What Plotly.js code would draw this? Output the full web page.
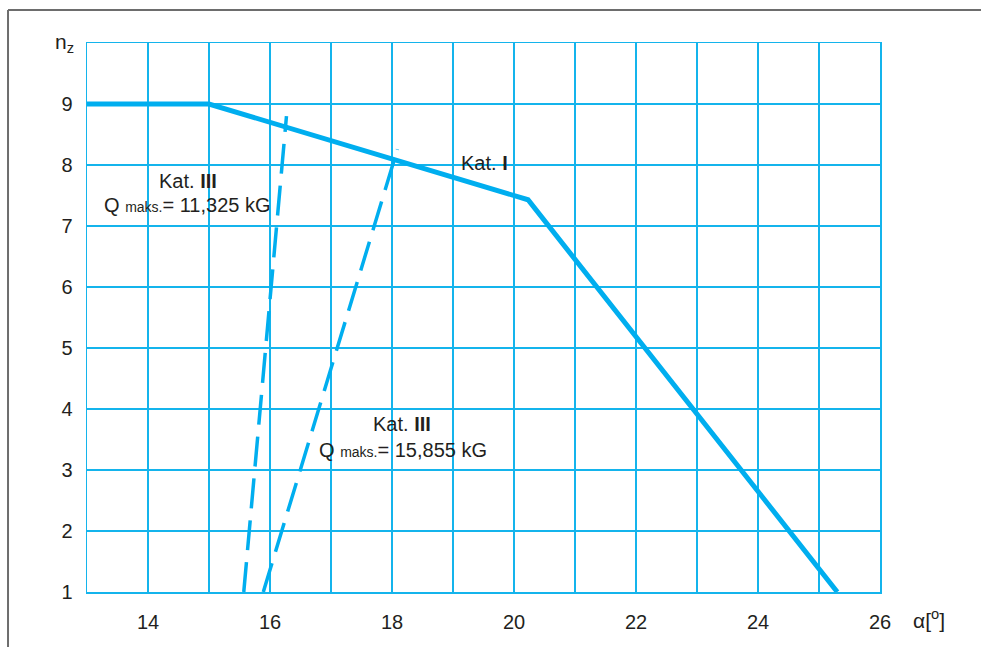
<!DOCTYPE html>
<html>
<head>
<meta charset="utf-8">
<script src="https://cdn.plot.ly/plotly-3.0.1.min.js"></script>
<style>
html,body{margin:0;padding:0;background:#fff;}
#chart{width:981px;height:647px;}
</style>
</head>
<body>
<div id="chart"></div>
<script>
// Kat. I envelope (solid)
const katI_alpha = [13, 15, 20.23, 25.3];
const katI_nz    = [9, 9, 7.43, 1];

// Kat. III, Q maks. = 11,325 kG (dashed)
const katIII_a_alpha = [15.57, 16.27];
const katIII_a_nz    = [1, 8.80];

// Kat. III, Q maks. = 15,855 kG (dashed)
const katIII_b_alpha = [15.89, 18.09];
const katIII_b_nz    = [1, 8.26];

const xTickVals = [14,15,16,17,18,19,20,21,22,23,24,25,26];
const xTickText = ['14','','16','','18','','20','','22','','24','','26'];
const yTickVals = [1,2,3,4,5,6,7,8,9,10];
const yTickText = ['1','2','3','4','5','6','7','8','9',''];

const BLUE = '#00aeef';
const GRID = '#14b4ec';
const TXT = '#231f20';
const FONT = 'Liberation Sans, Arial, sans-serif';

const traces = [
  {x: katI_alpha, y: katI_nz, mode: 'lines', line: {color: BLUE, width: 5}, hoverinfo: 'skip'},
  {x: katIII_a_alpha, y: katIII_a_nz, mode: 'lines', line: {color: BLUE, width: 3.5, dash: '30px,12px'}, hoverinfo: 'skip'},
  {x: katIII_b_alpha, y: katIII_b_nz, mode: 'lines', line: {color: BLUE, width: 3.5, dash: '30px,12px'}, hoverinfo: 'skip'}
];

const sm = '<span style="font-size:14px">maks.</span>';

const layout = {
  width: 981, height: 647,
  margin: {l: 87, r: 101, t: 43, b: 55, pad: 0},
  paper_bgcolor: '#fff', plot_bgcolor: '#fff',
  showlegend: false,
  font: {family: FONT, size: 20, color: TXT},
  xaxis: {
    range: [13, 26], tickvals: xTickVals, ticktext: xTickText,
    showgrid: true, gridcolor: GRID, gridwidth: 1.5,
    showline: true, linecolor: GRID, linewidth: 1.5, mirror: true,
    zeroline: false, ticks: '', ticklabelstandoff: 11,
    tickfont: {family: FONT, size: 20, color: TXT}
  },
  yaxis: {
    range: [1, 10], tickvals: yTickVals, ticktext: yTickText,
    showgrid: true, gridcolor: GRID, gridwidth: 1.5,
    showline: true, linecolor: GRID, linewidth: 1.5, mirror: true,
    zeroline: false, ticks: '', ticklabelstandoff: 9,
    tickfont: {family: FONT, size: 20, color: TXT}
  },
  annotations: [
    {xref: 'paper', yref: 'paper', x: -0.014, y: 1.0, xanchor: 'right', yanchor: 'middle',
     text: 'n<sub>z</sub>', showarrow: false, font: {size: 21}},
    {xref: 'paper', yref: 'paper', x: 1.039, y: -0.049, xanchor: 'left', yanchor: 'middle',
     text: 'α[<sup>o</sup>]', showarrow: false, font: {size: 21}},
    {x: 14.66, y: 7.74, text: 'Kat. <b>III</b>', showarrow: false},
    {x: 14.64, y: 7.34, text: 'Q ' + sm + '= 11,325 kG', showarrow: false},
    {x: 18.16, y: 3.75, text: 'Kat. <b>III</b>', showarrow: false},
    {x: 18.18, y: 3.33, text: 'Q ' + sm + '= 15,855 kG', showarrow: false},
    {x: 19.52, y: 8.03, text: 'Kat. <b>I</b>', showarrow: false}
  ],
  shapes: [
    {type: 'line', xref: 'paper', yref: 'paper', x0: -0.0996, x1: -0.0996, y0: 1.06, y1: -0.2,
     line: {color: '#6d6d6d', width: 2}},
    {type: 'line', xref: 'paper', yref: 'paper', x0: -0.0996, x1: 1.2, y0: 1.06, y1: 1.06,
     line: {color: '#6d6d6d', width: 2}}
  ]
};

Plotly.newPlot('chart', traces, layout, {staticPlot: true, displayModeBar: false});
</script>
</body>
</html>
